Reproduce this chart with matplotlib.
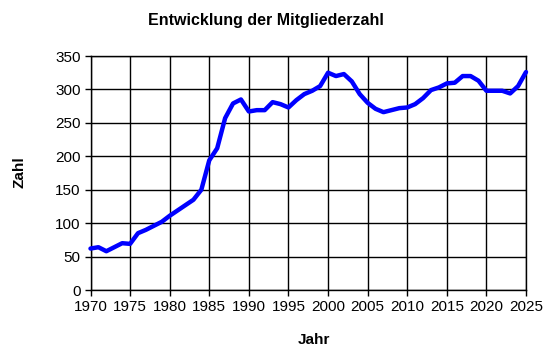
import matplotlib
matplotlib.use("Agg")
import matplotlib.pyplot as plt

years = list(range(1970, 2026))
members = [62, 64, 58, 64, 70, 69, 85, 90, 96, 102, 111, 119, 127, 135, 150,
           194, 212, 257, 279, 285, 267, 269, 269, 281, 278, 273, 284, 293,
           298, 305, 325, 320, 323, 312, 293, 280, 271, 266, 269, 272, 273,
           278, 287, 299, 303, 309, 310, 320, 320, 313, 298, 298, 298, 294,
           305, 326]

x_ticks = list(range(1970, 2026, 5))
y_ticks = list(range(0, 351, 50))

plt.rcParams['font.family'] = ['Liberation Sans', 'DejaVu Sans']

fig = plt.figure(figsize=(5.59, 3.57), dpi=100)
ax = fig.add_axes([90.5/559, 67/357, (526-90.5)/559, (290-56)/357])

ax.plot(years, members, color='#0000FF', linewidth=3.2,
        solid_joinstyle='round', solid_capstyle='round', zorder=3, clip_on=False)

ax.set_xlim(1970, 2025)
ax.set_ylim(0, 350)
ax.set_xticks(x_ticks)
ax.set_yticks(y_ticks)
ax.grid(True, color='black', linewidth=1.0)
ax.set_axisbelow(True)
for s in ax.spines.values():
    s.set_color('black')
    s.set_linewidth(1.0)
ax.tick_params(direction='out', length=4, width=1, labelsize=11, pad=3, colors='black')

fig.text(266/559, 1 - 21/357, 'Entwicklung der Mitgliederzahl', fontsize=11.5,
         fontweight='bold', ha='center', va='center')
fig.text(314/559, 1 - 340/357, 'Jahr', fontsize=11, fontweight='bold',
         ha='center', va='center')
fig.text(20/559, 1 - 172.5/357, 'Zahl', fontsize=11, fontweight='bold',
         ha='center', va='center', rotation=90)

fig.savefig('out.png', dpi=100, facecolor='white')
